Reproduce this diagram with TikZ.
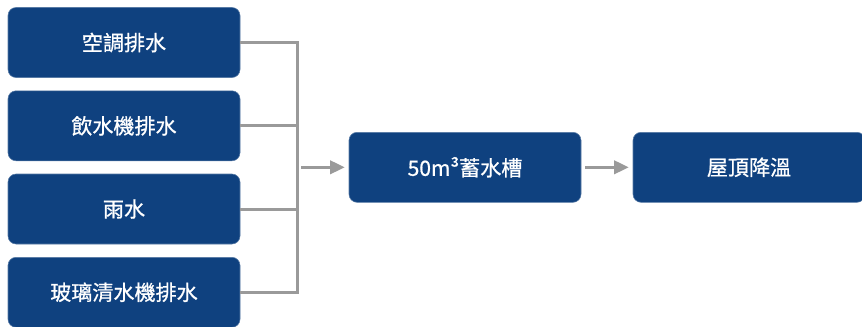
\documentclass[tikz,border=0pt]{standalone}
\usepackage{fontspec}
\setmainfont{Noto Sans CJK TC}[FakeBold=0.8]
\usetikzlibrary{arrows.meta}
\definecolor{boxblue}{HTML}{0F417F}
\definecolor{linegray}{HTML}{9A9A9A}
\tikzset{
  flowbox/.style={fill=boxblue, draw=boxblue!70!white, line width=0.4pt, rounded corners=6pt,
    minimum width=174pt, minimum height=52.5pt, text=white, font=\fontsize{15.8}{18}\selectfont},
  pipe/.style={draw=linegray, line width=2.25pt},
  flow/.style={pipe, -{Triangle[length=11pt,width=10pt]}, shorten <=3pt, shorten >=3pt}
}
\begin{document}
\begin{tikzpicture}[x=0.75pt, y=-0.75pt]

  % Frame of the picture
  \useasboundingbox (0,0) rectangle (862,326);
  \clip (0,0) rectangle (862,326);

  % Sources
  \node[flowbox] (ac) at (124,42.5) {空調排水};
  \node[flowbox] (drink) at (124,125.8) {飲水機排水};
  \node[flowbox] (rain) at (124,209) {雨水};
  \node[flowbox] (glass) at (124,292.3) {玻璃清水機排水};

  % Tank and use
  \node[flowbox] (tank) at (465,167.3) {50m³蓄水槽};
  \node[flowbox] (roof) at (749,167.3) {屋頂降溫};

  % Collecting line
  \coordinate (bus) at (297,0);
  \draw[pipe] (ac.east) -- (ac.east -| bus) -- (glass.east -| bus) -- (glass.east);
  \draw[pipe] (drink.east) -- (drink.east -| bus);
  \draw[pipe] (rain.east) -- (rain.east -| bus);

  % Arrows
  \draw[flow] (tank.west -| bus) -- (tank.west);
  \draw[flow] (tank.east) -- (roof.west);

\end{tikzpicture}
\end{document}
